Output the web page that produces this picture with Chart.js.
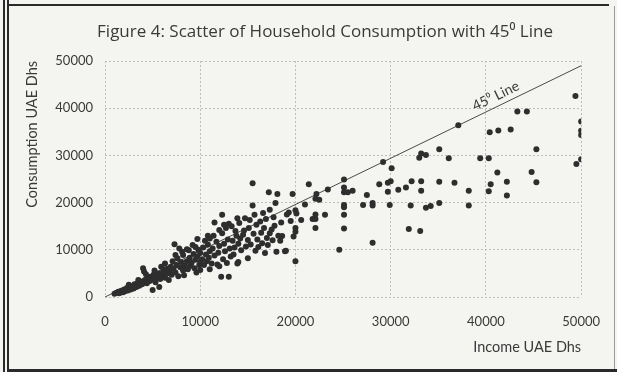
<!DOCTYPE html>
<html>
<head>
<meta charset="utf-8">
<script src="https://cdn.jsdelivr.net/npm/chart.js@4"></script>
<style>
  html, body { margin: 0; padding: 0; background: #f4f5f1; }
  #wrap { width: 617px; height: 372px; position: relative; }
</style>
</head>
<body>
<div id="wrap"><canvas id="scatterChart" width="617" height="372"></canvas></div>
<script>
// household income (x) and consumption (y), UAE Dhs
const incomeDhs = [
  1000, 1200, 1400, 1500, 1700, 1900, 2000, 2100, 2300, 2400, 2600, 2700, 2900, 3000, 3100, 3300, 3400, 3600,
  3700, 3900, 4000, 4000, 4100, 4200, 4400, 4500, 4700, 4800, 5000, 5000, 5100, 5300, 5400, 5600, 5700, 5800,
  6000, 6100, 6300, 6400, 6500, 6700, 6800, 6900, 7000, 7200, 7300, 7400, 7400, 7500, 7700, 7800, 7900, 8000,
  8200, 8200, 8400, 8600, 8600, 8700, 8900, 9000, 9100, 9300, 9400, 9500, 9700, 9700, 9800, 9900, 10000, 10000, 10000,
  10200, 10300, 10400, 10600, 10700, 10800, 10900, 11000, 11200, 11300, 11500, 11500, 11700, 11800, 11900, 12000,
  12200, 12300, 12300, 12400, 12500, 12500, 12600, 12800, 12900, 13000, 13000, 13100, 13200, 13400, 13500, 13700,
  13800, 13900, 13900, 14000, 14000,
  14200, 14300, 14500, 14700, 14800, 15000, 15100, 15300, 15500, 15500, 15600, 15800, 15900, 16000, 16100, 16300,
  16400, 16500, 16700, 16900, 17000, 17100, 17200, 17300, 17500, 17600, 17800, 17900, 18000, 18100, 18200, 18400,
  18600, 18900, 19000, 19100, 19300, 19700, 19800, 20000, 20000, 20000, 20100, 20000,
  20600, 21000, 21400, 21800, 22100, 22100, 22100, 22200, 22100, 22500, 23100, 23400, 24600, 25100, 25100, 25100,
  25500, 26000, 25100, 25100, 25100, 25100, 27100, 27500, 28100, 28100, 28100, 28800, 29200, 29700, 30000, 29700, 29900,
  30100, 30800, 31600, 31900, 32100, 32200, 33000, 33100, 33200, 33200, 33200, 33700, 33700, 34200, 35100, 35100,
  35100, 36100, 36700, 37100, 38200, 38200, 39400,
  40300, 40300, 40400, 40500, 41200, 41300, 42200, 42200, 42600, 43300, 44300, 44800, 45300, 45300, 49400, 49500,
  50000, 50000, 50000, 50000,
  2500, 3500, 4300, 5200, 5900, 6300, 6600, 7100, 7600, 8100, 8800, 9200, 9500, 10500, 11000, 11400, 12000, 12700,
  13300, 14100, 14600, 15200, 15700, 16600, 17300, 17700, 18500, 19500, 8300, 9600, 11000, 12000, 10800, 13600,
  15000, 16800
];
const consumptionDhs = [
  700, 900, 1100, 800, 1300, 1000, 1600, 1200, 1900, 1400, 2100, 1600, 2300, 1800, 2700, 2100, 2900, 2400,
  3300, 2700, 3100, 6100, 5400, 3600, 2900, 4000, 3400, 4300, 3700, 1500, 4700, 3100, 4200, 5000, 2100, 3800,
  4600, 5400, 4100, 5900, 4900, 3600, 5500, 6400, 4700, 6000, 11200, 8900, 5200, 6800, 4400, 10300, 6300, 7400,
  8900, 5600, 6700, 10100, 7600, 5900, 8300, 6600, 7300, 9100, 6100, 7900, 12300, 8600, 10000, 6800, 5700, 7400, 9300,
  8000, 10500, 6800, 9000, 7600, 11100, 8300, 9700, 7100, 10300, 15800, 8800, 11700, 6900, 9400, 10800,
  4300, 17400, 13500, 8000, 15300, 11300, 9700, 7200, 12200, 4300, 15500, 10300, 8600, 11900, 9000, 14000,
  13000, 7100, 16700, 11300, 7400,
  12400, 9900, 13200, 16700, 10700, 12100, 14600, 11100, 24100, 19400, 13400, 9800, 15300, 12200, 10600, 16000,
  13600, 11400, 14600, 16500, 12500, 11000, 22200, 13500, 14300, 12000, 15100, 19900, 9600, 21800, 13000, 11900,
  12900, 9700, 9800, 17500, 17900, 21800, 12800, 18400, 7600, 14600, 17700, 13800,
  16300, 19600, 23900, 16500, 17500, 16500, 14600, 21800, 20800, 20600, 17400, 22800, 10000, 24900, 23200, 22200,
  22200, 22500, 19500, 19000, 17400, 14500, 19500, 21600, 19900, 19400, 11500, 23900, 28600, 24200, 24500, 22300, 19500,
  27300, 22700, 23200, 14400, 19400, 24500, 29500, 14000, 30400, 24500, 22500, 18900, 30100, 19300, 31300, 24400,
  19900, 29400, 24200, 36400, 22500, 19400, 29400,
  29400, 22400, 34900, 23900, 26400, 35300, 24400, 21500, 35500, 39300, 39300, 26500, 31300, 24300, 42600, 28200,
  37200, 35200, 34300, 29200,
  2600, 3600, 4800, 5600, 6400, 7100, 6000, 7600, 8200, 9600, 9900, 11000, 10600, 11900, 12400, 13000, 14200, 14600,
  15000, 15700, 14100, 16300, 17400, 17800, 18500, 16900, 15800, 16100, 4600, 5200, 5900, 6500, 13000, 10500,
  8200, 9300
];

// the 45 degree reference line, end points as drawn in the figure
const lineX = [0, 50000];
const lineY = [0, 49000];
const lineLabel = '45\u2070 Line';
const lineLabelAt = 41500;

const axisTicks = [0, 10000, 20000, 30000, 40000, 50000];

const chartTitle = 'Figure 4: Scatter of Household Consumption with 45\u2070 Line';
const xTitle = 'Income UAE Dhs';
const yTitle = 'Consumption UAE Dhs';

const ink = '#3a3a3a';
const fontFamily = 'Lato, "Open Sans", sans-serif';

const points = incomeDhs.map((x, i) => ({ x: x, y: consumptionDhs[i] }));
const linePoints = lineX.map((x, i) => ({ x: x, y: lineY[i] }));

// scanned page frame + paper colour
const framePlugin = {
  id: 'frame',
  beforeDraw(chart) {
    const ctx = chart.ctx;
    ctx.save();
    ctx.fillStyle = '#f4f5f1';
    ctx.fillRect(0, 0, chart.width, chart.height);
    ctx.fillStyle = '#2a2a2a';
    ctx.fillRect(3, 0, 2, 372);
    ctx.fillRect(7, 0, 2, 372);
    ctx.fillRect(9, 4, 600, 2);
    ctx.fillRect(9, 369, 608, 3);
    ctx.fillStyle = '#9a9a9a';
    ctx.fillRect(614, 6, 1, 363);
    ctx.restore();
  }
};

// the figure title sits a little right of the plot centre, as in the scan
const titlePlugin = {
  id: 'figTitle',
  afterDraw(chart) {
    const ctx = chart.ctx;
    ctx.save();
    ctx.fillStyle = ink;
    ctx.font = '17px "Open Sans", Lato, sans-serif';
    ctx.textAlign = 'center';
    ctx.textBaseline = 'middle';
    ctx.fillText(chartTitle, 325, 32);
    ctx.restore();
  }
};

// "45° Line" written along the line
const lineLabelPlugin = {
  id: 'lineLabel',
  afterDatasetsDraw(chart) {
    const xs = chart.scales.x, ys = chart.scales.y;
    const x0 = xs.getPixelForValue(lineX[0]), y0 = ys.getPixelForValue(lineY[0]);
    const x1 = xs.getPixelForValue(lineX[1]), y1 = ys.getPixelForValue(lineY[1]);
    const angle = Math.atan2(y1 - y0, x1 - x0);
    const frac = (lineLabelAt - lineX[0]) / (lineX[1] - lineX[0]);
    const px = x0 + (x1 - x0) * frac;
    const py = y0 + (y1 - y0) * frac;
    const ctx = chart.ctx;
    ctx.save();
    ctx.translate(px, py);
    ctx.rotate(angle);
    ctx.fillStyle = ink;
    ctx.font = '14px ' + fontFamily;
    ctx.textAlign = 'center';
    ctx.textBaseline = 'bottom';
    ctx.fillText(lineLabel, 0, -3);
    ctx.restore();
  }
};

const gridStyle = {
  color: '#bdbdbd',
  lineWidth: 1,
  drawTicks: false
};

new Chart(document.getElementById('scatterChart'), {
  type: 'scatter',
  data: {
    datasets: [
      {
        data: points,
        backgroundColor: '#2e2e2e',
        borderColor: '#2e2e2e',
        borderWidth: 0,
        pointRadius: 3,
        pointHoverRadius: 3
      },
      {
        type: 'line',
        data: linePoints,
        borderColor: '#4a4a4a',
        borderWidth: 1,
        pointRadius: 0,
        fill: false
      }
    ]
  },
  plugins: [framePlugin, lineLabelPlugin, titlePlugin],
  options: {
    responsive: false,
    animation: false,
    events: [],
    layout: {
      padding: { left: 16, right: 35, top: 61, bottom: 7 }
    },
    plugins: {
      legend: { display: false },
      tooltip: { enabled: false },
      title: { display: false }
    },
    scales: {
      x: {
        type: 'linear',
        min: axisTicks[0],
        max: axisTicks[axisTicks.length - 1],
        afterBuildTicks: (scale) => { scale.ticks = axisTicks.map(v => ({ value: v })); },
        grid: gridStyle,
        border: { display: false, dash: [2, 2] },
        ticks: {
          color: ink,
          font: { family: fontFamily, size: 13 },
          padding: 17,
          maxRotation: 0,
          callback: (v) => String(v)
        },
        title: {
          display: true,
          text: xTitle,
          align: 'end',
          color: ink,
          font: { family: fontFamily, size: 14.5 },
          padding: { top: 4, bottom: 9 }
        },
        afterFit: (scale) => { scale.height = 68; }
      },
      y: {
        type: 'linear',
        min: axisTicks[0],
        max: axisTicks[axisTicks.length - 1],
        afterBuildTicks: (scale) => { scale.ticks = axisTicks.map(v => ({ value: v })); },
        grid: gridStyle,
        border: { display: false, dash: [2, 2] },
        ticks: {
          color: ink,
          font: { family: fontFamily, size: 13 },
          padding: 12,
          callback: (v) => String(v)
        },
        title: {
          display: true,
          text: yTitle,
          align: 'end',
          color: ink,
          font: { family: fontFamily, size: 14.5 },
          padding: { top: 8, bottom: 0 }
        },
        afterFit: (scale) => { scale.width = 89; }
      }
    }
  }
});
</script>
</body>
</html>
